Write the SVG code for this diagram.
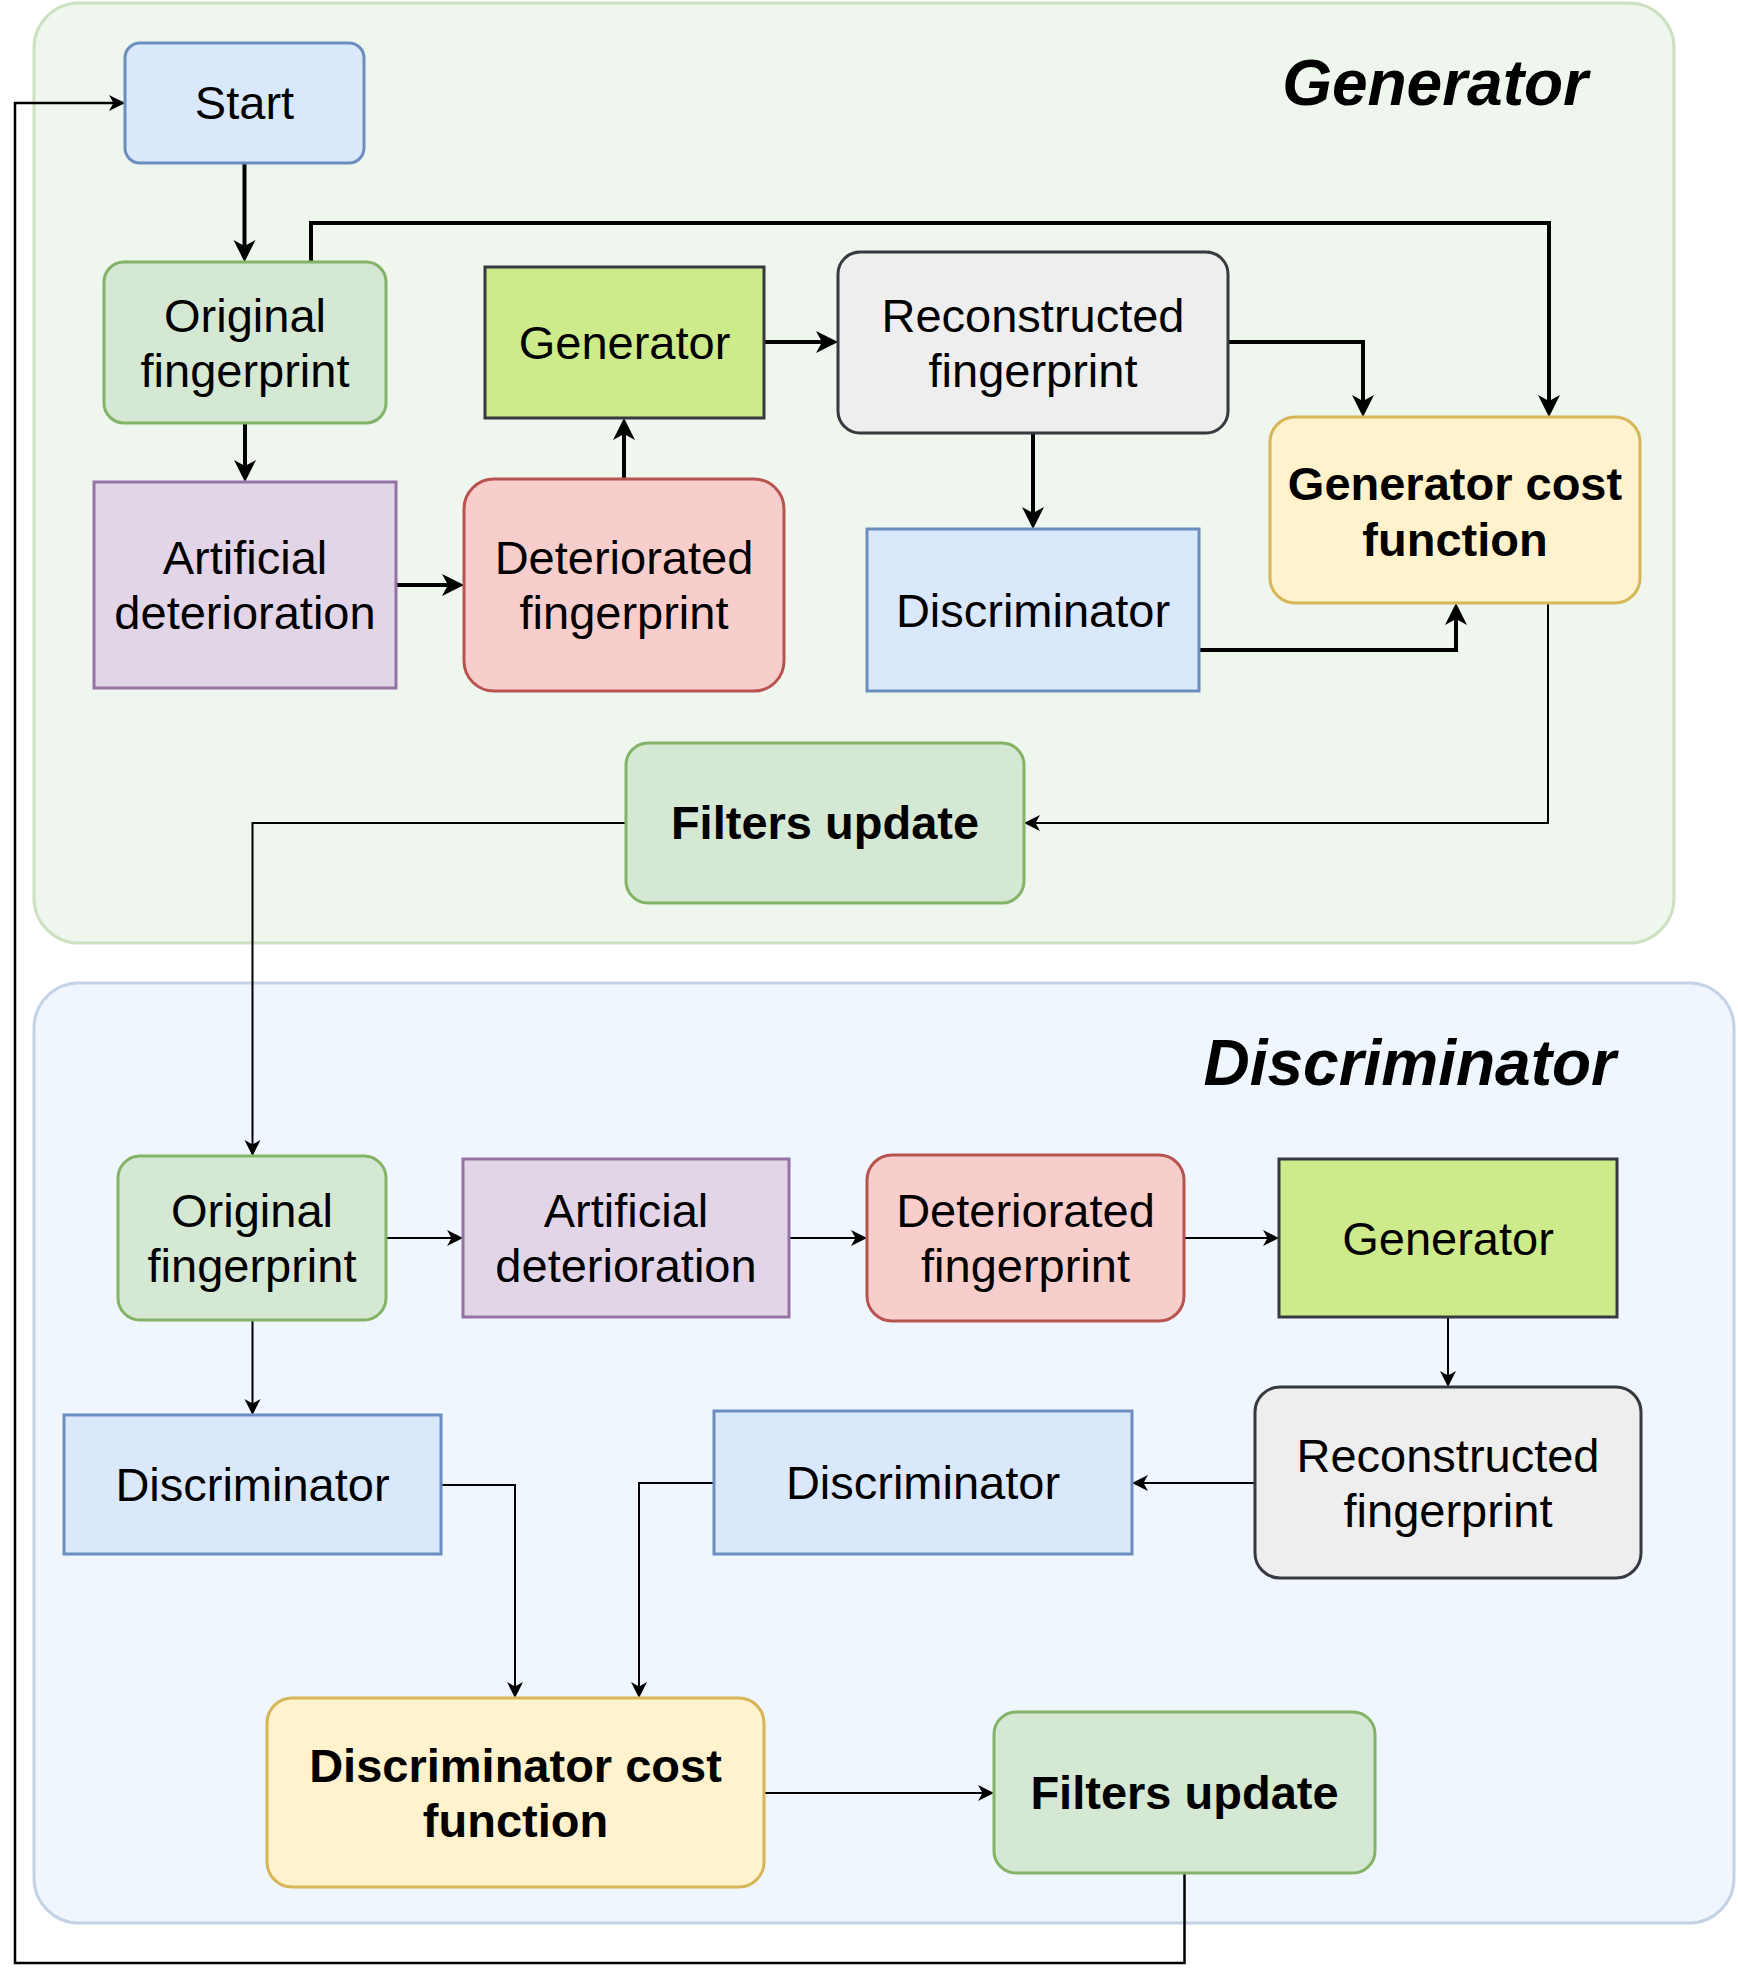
<svg xmlns="http://www.w3.org/2000/svg" width="1738" height="1982" viewBox="0 0 1738 1982">
<defs>
<style>
.lbl{font-family:"Liberation Sans",Arial,Helvetica,sans-serif;font-size:47px;fill:#000;text-anchor:middle}
.bold{font-weight:bold}
.title{font-family:"Liberation Sans",Arial,Helvetica,sans-serif;font-size:64px;font-weight:bold;font-style:italic;fill:#000;text-anchor:end}
.blue{fill:#dae8fc;stroke:#6c8ebf;stroke-width:3}
.green{fill:#d5e8d4;stroke:#82b366;stroke-width:3}
.purple{fill:#e1d5e7;stroke:#9673a6;stroke-width:3}
.red{fill:#f8cecc;stroke:#b85450;stroke-width:3}
.yellow{fill:#fff2cc;stroke:#d6b656;stroke-width:3}
.gray{fill:#eeeeee;stroke:#36393d;stroke-width:3}
.lime{fill:#cdeb8b;stroke:#36393d;stroke-width:3}
.thick{fill:none;stroke:#000;stroke-width:4;marker-end:url(#ah4)}
.thin{fill:none;stroke:#000;stroke-width:2;marker-end:url(#ah2)}
.loop{fill:none;stroke:#000;stroke-width:2.5;marker-end:url(#ah2)}
</style>
<marker id="ah4" markerUnits="userSpaceOnUse" markerWidth="24" markerHeight="24" viewBox="0 -12 22 24" refX="18" refY="0" orient="auto">
<path d="M0,-11 L22,0 L0,11 L6,0 Z" fill="#000"/>
</marker>
<marker id="ah2" markerUnits="userSpaceOnUse" markerWidth="18" markerHeight="18" viewBox="0 -9 16 18" refX="14" refY="0" orient="auto">
<path d="M0,-8 L16,0 L0,8 L4.5,0 Z" fill="#000"/>
</marker>
</defs>
<rect width="1738" height="1982" fill="#ffffff"/>

<g id="container-generator">
<rect x="34" y="3" width="1640" height="940" rx="45" fill="#eef6ee" stroke="#cde1c2" stroke-width="3"/>
<text class="title" x="1588" y="105">Generator</text>
</g>
<g id="container-discriminator">
<rect x="34" y="983" width="1700" height="940" rx="45" fill="#f0f6fe" stroke="#c4d2e5" stroke-width="3"/>
<text class="title" x="1616" y="1085">Discriminator</text>
</g>

<g id="connectors">
<path class="thick" d="M244.5,163 V258"/>
<path class="thick" d="M311,262 V223 H1549 V413"/>
<path class="thick" d="M245,423 V478"/>
<path class="thick" d="M396,585 H460"/>
<path class="thick" d="M624,479 V422"/>
<path class="thick" d="M764,342 H834"/>
<path class="thick" d="M1228,342 H1363 V413"/>
<path class="thick" d="M1033,433 V525"/>
<path class="thick" d="M1199,650 H1456 V607"/>
<path class="thin" d="M1548,603 V823 H1026"/>
<path class="thin" d="M626,823 H252.5 V1154"/>
<path class="thin" d="M252.5,1320 V1413"/>
<path class="thin" d="M386,1238 H461"/>
<path class="thin" d="M789,1238 H865"/>
<path class="thin" d="M1184,1238 H1277"/>
<path class="thin" d="M1448,1317 V1385"/>
<path class="thin" d="M1255,1483 H1134"/>
<path class="thin" d="M441,1485 H515 V1696"/>
<path class="thin" d="M714,1483 H639 V1696"/>
<path class="thin" d="M764,1793 H992"/>
<path class="loop" d="M1184.5,1873 V1963 H15 V103 H123"/>
</g>

<g id="start">
<rect class="blue" x="125" y="43" width="239" height="120" rx="15" stroke-width="2"/>
<text class="lbl" x="244.5" y="119">Start</text>
</g>
<g id="gen-original">
<rect class="green" x="104" y="262" width="282" height="161" rx="20"/>
<text class="lbl" x="245" y="332">Original<tspan x="245" y="387">fingerprint</tspan></text>
</g>
<g id="gen-generator">
<rect class="lime" x="485" y="267" width="279" height="151"/>
<text class="lbl" x="624.5" y="359">Generator</text>
</g>
<g id="gen-reconstructed">
<rect class="gray" x="838" y="252" width="390" height="181" rx="22"/>
<text class="lbl" x="1033" y="332">Reconstructed<tspan x="1033" y="387">fingerprint</tspan></text>
</g>
<g id="gen-cost">
<rect class="yellow" x="1270" y="417" width="370" height="186" rx="25"/>
<text class="lbl bold" x="1455" y="500">Generator cost<tspan x="1455" y="556">function</tspan></text>
</g>
<g id="gen-artificial">
<rect class="purple" x="94" y="482" width="302" height="206"/>
<text class="lbl" x="245" y="574">Artificial<tspan x="245" y="629">deterioration</tspan></text>
</g>
<g id="gen-deteriorated">
<rect class="red" x="464" y="479" width="320" height="212" rx="30"/>
<text class="lbl" x="624" y="574">Deteriorated<tspan x="624" y="629">fingerprint</tspan></text>
</g>
<g id="gen-discriminator">
<rect class="blue" x="867" y="529" width="332" height="162"/>
<text class="lbl" x="1033" y="627">Discriminator</text>
</g>
<g id="gen-filters">
<rect class="green" x="626" y="743" width="398" height="160" rx="22"/>
<text class="lbl bold" x="825" y="839">Filters update</text>
</g>

<g id="dis-original">
<rect class="green" x="118" y="1156" width="268" height="164" rx="22"/>
<text class="lbl" x="252" y="1227">Original<tspan x="252" y="1282">fingerprint</tspan></text>
</g>
<g id="dis-artificial">
<rect class="purple" x="463" y="1159" width="326" height="158"/>
<text class="lbl" x="626" y="1227">Artificial<tspan x="626" y="1282">deterioration</tspan></text>
</g>
<g id="dis-deteriorated">
<rect class="red" x="867" y="1155" width="317" height="166" rx="25"/>
<text class="lbl" x="1025.5" y="1227">Deteriorated<tspan x="1025.5" y="1282">fingerprint</tspan></text>
</g>
<g id="dis-generator">
<rect class="lime" x="1279" y="1159" width="338" height="158"/>
<text class="lbl" x="1448" y="1255">Generator</text>
</g>
<g id="dis-reconstructed">
<rect class="gray" x="1255" y="1387" width="386" height="191" rx="25"/>
<text class="lbl" x="1448" y="1472">Reconstructed<tspan x="1448" y="1527">fingerprint</tspan></text>
</g>
<g id="dis-discriminator-real">
<rect class="blue" x="64" y="1415" width="377" height="139"/>
<text class="lbl" x="252.5" y="1501">Discriminator</text>
</g>
<g id="dis-discriminator-fake">
<rect class="blue" x="714" y="1411" width="418" height="143"/>
<text class="lbl" x="923" y="1499">Discriminator</text>
</g>
<g id="dis-cost">
<rect class="yellow" x="267" y="1698" width="497" height="189" rx="25"/>
<text class="lbl bold" x="515.5" y="1782">Discriminator cost<tspan x="515.5" y="1837">function</tspan></text>
</g>
<g id="dis-filters">
<rect class="green" x="994" y="1712" width="381" height="161" rx="22"/>
<text class="lbl bold" x="1184.5" y="1809">Filters update</text>
</g>
</svg>
